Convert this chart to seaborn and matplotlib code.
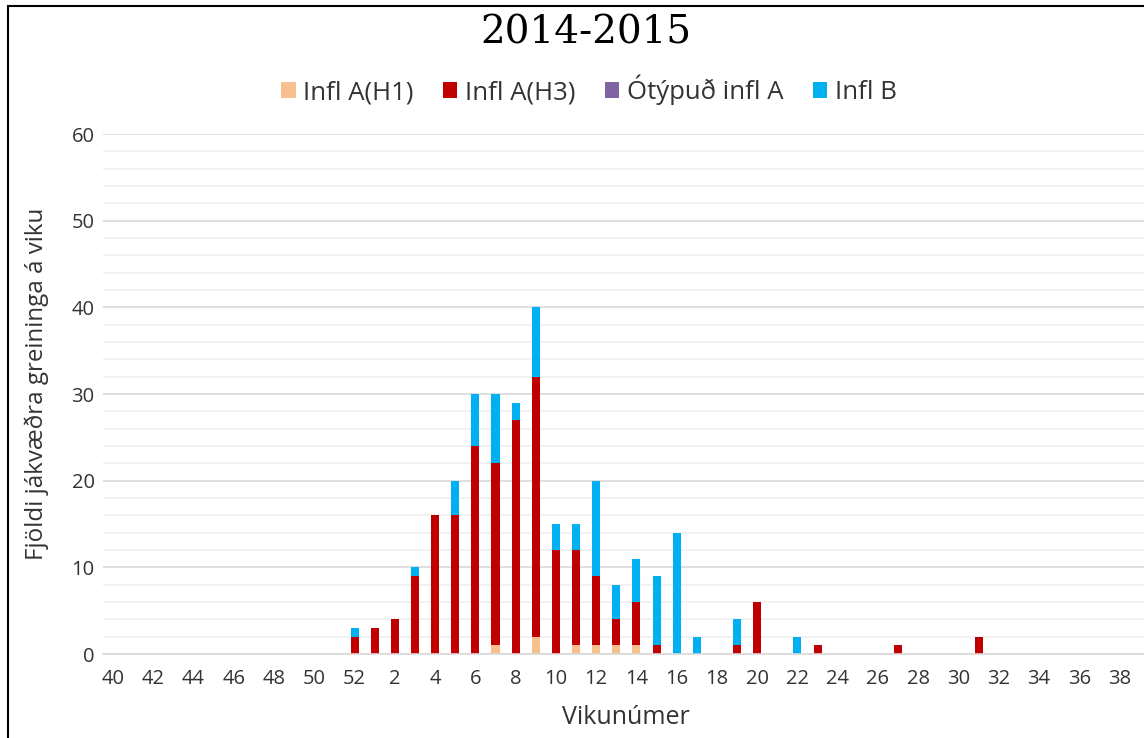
import numpy as np
import pandas as pd
import matplotlib
matplotlib.use("Agg")
import matplotlib.pyplot as plt
from matplotlib.patches import Patch, Rectangle
from matplotlib.ticker import MultipleLocator
import seaborn as sns

# Week numbers of the season (week 40 of 2014 to week 39 of 2015)
weeks = [str(w) for w in list(range(40, 53)) + list(range(1, 40))]

# Counts per week
#            40 41 42 43 44 45 46 47 48 49 50 51 52
h1 =       [0, 0, 0, 0, 0, 0, 0, 0, 0, 0, 0, 0, 0,
            # 1 .. 39
            0, 0, 0, 0, 0, 0, 1, 0, 2, 0, 1, 1, 1, 1, 0, 0, 0, 0, 0, 0,
            0, 0, 0, 0, 0, 0, 0, 0, 0, 0, 0, 0, 0, 0, 0, 0, 0, 0, 0]
h3 =       [0, 0, 0, 0, 0, 0, 0, 0, 0, 0, 0, 0, 2,
            3, 4, 9, 16, 16, 24, 21, 27, 30, 12, 11, 8, 3, 5, 1, 0, 0, 0, 1, 6,
            0, 0, 1, 0, 0, 0, 1, 0, 0, 0, 2, 0, 0, 0, 0, 0, 0, 0, 0]
untyped_a = [0] * 52
infl_b =   [0, 0, 0, 0, 0, 0, 0, 0, 0, 0, 0, 0, 1,
            0, 0, 1, 0, 4, 6, 8, 2, 8, 3, 3, 11, 4, 5, 8, 14, 2, 0, 3, 0,
            0, 2, 0, 0, 0, 0, 0, 0, 0, 0, 0, 0, 0, 0, 0, 0, 0, 0, 0]

series_names = ["Infl A(H1)", "Infl A(H3)", "Ótýpuð infl A", "Infl B"]
colors = ["#F8C08F", "#C00000", "#8064A2", "#00B0F0"]

df = pd.DataFrame({"week": weeks, "h1": h1, "h3": h3,
                   "untyped": untyped_a, "b": infl_b})
# cumulative tops for the stack
df["c1"] = df["h1"]
df["c2"] = df["c1"] + df["h3"]
df["c3"] = df["c2"] + df["untyped"]
df["c4"] = df["c3"] + df["b"]

sns.set_style("white")
plt.rcParams["font.family"] = ["Open Sans", "DejaVu Sans"]

fig = plt.figure(figsize=(11.44, 7.38), dpi=100)
ax = fig.add_axes([0.090, 0.1138, 0.915, 0.7046])

# draw the stack from the top down so each layer covers the one below
for col, c in zip(["c4", "c3", "c2", "c1"], colors[::-1]):
    sns.barplot(data=df, x="week", y=col, order=weeks, color=c,
                saturation=1, width=0.4, ax=ax, errorbar=None,
                linewidth=0)

ax.set_ylim(0, 60)
ax.set_xlim(-0.5, len(weeks) - 0.5)
ax.yaxis.set_major_locator(MultipleLocator(10))
ax.yaxis.set_minor_locator(MultipleLocator(2))
ax.grid(axis="y", which="major", color="#D9D9D9", lw=1.2)
ax.grid(axis="y", which="minor", color="#F0F0F0", lw=1.2)
ax.set_axisbelow(True)
for s in ["top", "right", "left"]:
    ax.spines[s].set_visible(False)
ax.spines["bottom"].set_color("#D9D9D9")
ax.spines["bottom"].set_linewidth(1.2)

ax.set_xticks(range(0, len(weeks), 2))
ax.set_xticklabels(weeks[::2])
ax.tick_params(axis="both", length=0, labelsize=14.5, colors="#333333")
ax.tick_params(axis="x", pad=11)
ax.tick_params(axis="y", pad=6)

ax.set_xlabel("Vikunúmer", fontsize=18, color="#333333")
ax.xaxis.set_label_coords(0.5, -0.098)
ax.set_ylabel("Fjöldi jákvæðra greininga á viku", fontsize=17.4,
              color="#333333")
ax.yaxis.set_label_coords(-0.052, 0.519)

fig.text(0.512, 0.955, "2014-2015", ha="center", va="center",
         fontsize=28, color="black", family="DejaVu Serif")

handles = [Patch(facecolor=c, edgecolor="none", label=n)
           for n, c in zip(series_names, colors)]
fig.legend(handles=handles, loc="center", bbox_to_anchor=(0.515, 0.878),
           ncol=4, frameon=False, fontsize=18.5, handlelength=0.55,
           handleheight=0.55, handletextpad=0.3, columnspacing=1.15,
           labelcolor="#333333")

# outer frame of the chart
fig.patches.append(Rectangle((0.007, -0.1), 1.2, 0.992 + 0.1,
                             transform=fig.transFigure, fill=False,
                             edgecolor="black", lw=1.5))

fig.savefig("out.png", dpi=100, facecolor="white")
